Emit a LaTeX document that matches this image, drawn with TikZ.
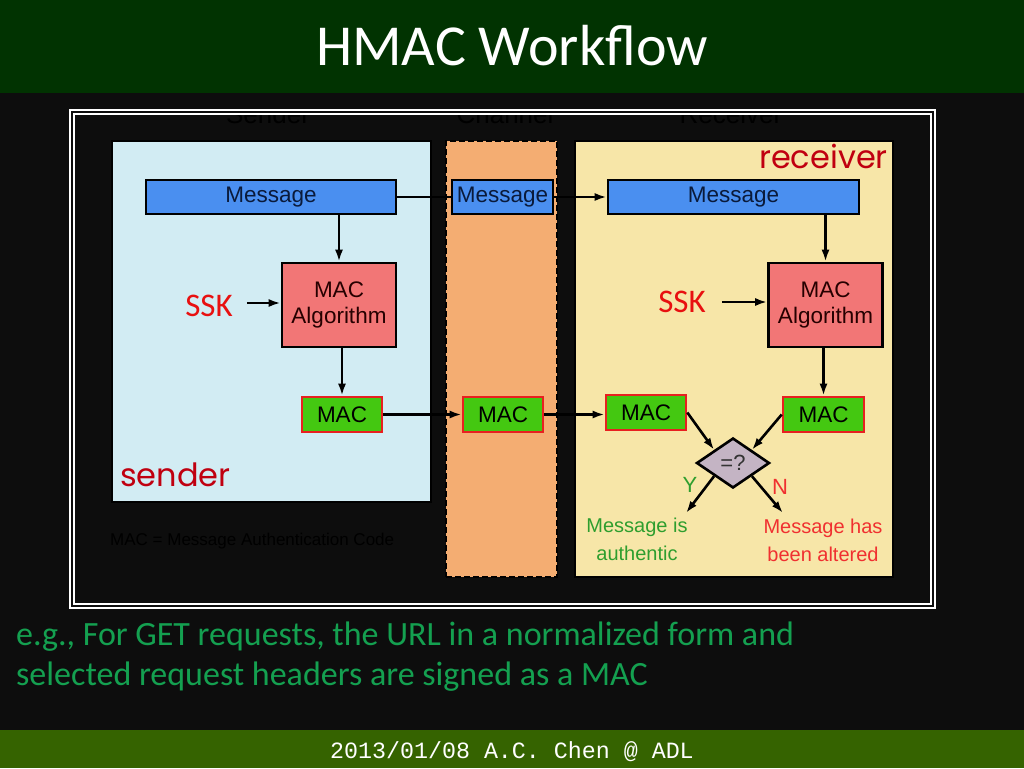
\documentclass[tikz,border=0pt]{standalone}
\usepackage{fontspec}
\setmainfont{Liberation Sans}
\newfontfamily\fCal{Carlito}
\newfontfamily\fMono{Liberation Mono}
\newfontfamily\fComic{Poppins}
\usetikzlibrary{shapes.geometric,arrows.meta}
\definecolor{slidebg}{HTML}{0D0D0D}
\definecolor{titlebar}{HTML}{013301}
\definecolor{footbar}{HTML}{356300}
\definecolor{sendfill}{HTML}{D2ECF3}
\definecolor{chanfill}{HTML}{F4AD72}
\definecolor{recvfill}{HTML}{F7E6A8}
\definecolor{msgfill}{HTML}{4A8FF0}
\definecolor{msgtext}{HTML}{0A1A3A}
\definecolor{algfill}{HTML}{F27676}
\definecolor{macfill}{HTML}{44C811}
\definecolor{macline}{HTML}{E82020}
\definecolor{diafill}{HTML}{C4B4C4}
\definecolor{sskred}{HTML}{E81010}
\definecolor{namered}{HTML}{C00010}
\definecolor{notegreen}{HTML}{14A050}
\definecolor{okgreen}{HTML}{2E9E2E}
\definecolor{badred}{HTML}{F03030}
\begin{document}
\begin{tikzpicture}[x=1pt,y=-1pt,
  lbl/.style={font=\fontsize{22}{26}\selectfont, align=center, inner sep=0pt},
  box/.style={draw=black, line width=2.6pt, inner sep=0pt, font=\fontsize{22.5}{26}\selectfont, align=center},
  msgbox/.style={box, fill=msgfill, text=msgtext, minimum height=34},
  algbox/.style={box, fill=algfill, text=black!85!red, minimum width=114, minimum height=84},
  macbox/.style={box, draw=macline, fill=macfill, text=black, minimum width=80, minimum height=35},
  region/.style={draw=black, line width=2.6pt, inner sep=0pt},
  ln/.style={line width=2.6pt},
  arr/.style={line width=2.6pt, -{Latex[length=12pt,width=8pt]}},
  ssk/.style={font=\fCal\fontsize{33}{36}\selectfont, text=sskred, inner sep=0pt},
  who/.style={font=\fComic\fontsize{32}{36}\selectfont, text=namered, inner sep=0pt},
  hidden/.style={text=black, inner sep=0pt}
]
\useasboundingbox (0,0) rectangle (1024,768);
\fill[slidebg] (0,0) rectangle (1024,768);
% title bar
\fill[titlebar] (0,0) rectangle (1024,93);
\node[anchor=base, text=white, inner sep=0pt, font=\fCal\fontsize{58}{60}\selectfont] (title) at (512,65) {HMAC Workflow};
% footer bar
\fill[footbar] (0,730) rectangle (1024,768);
\node[anchor=base, text=white, inner sep=0pt, font=\fMono\fontsize{23.3}{26}\selectfont] (foot) at (512,758) {2013/01/08 A.C. Chen @ ADL};
% frame
\fill[black!95!white] (70,110) rectangle (935,608);
\draw[white, line width=2pt] (70,110) rectangle (935,608);
\draw[white, line width=1.5pt] (74,114) rectangle (931,604);
% faint headers
\begin{scope}
\clip (75,115) rectangle (930,603);
\node[hidden, anchor=base, font=\fontsize{26}{28}\selectfont] (hsend) at (268,123) {Sender};
\node[hidden, anchor=base, font=\fontsize{26}{28}\selectfont] (hchan) at (505,123) {Channel};
\node[hidden, anchor=base, font=\fontsize{26}{28}\selectfont] (hrecv) at (731,123) {Receiver};
\end{scope}
% regions
\node[region, fill=sendfill, minimum width=319, minimum height=361] (sbox) at (271.5,321.5) {};
\node[region, fill=chanfill, dashed, dash pattern=on 6pt off 3pt, minimum width=111, minimum height=436] (cbox) at (501.5,359) {};
\node[region, fill=recvfill, minimum width=318, minimum height=436] (rbox) at (734,359) {};
\node[hidden, anchor=base west, font=\fontsize{17}{20}\selectfont] (note) at (110,545) {MAC = Message Authentication Code};
% labels
\node[who, anchor=base east] (recvname) at (888,168) {receiver};
\node[who, anchor=base west] (sendname) at (120,486) {sender};
% messages
\node[msgbox, minimum width=250] (smsg) at (271,197) {Message};
\node[msgbox, minimum width=101] (cmsg) at (502.5,197) {Message};
\node[msgbox, minimum width=251] (rmsg) at (733.5,197) {Message};
% algorithms
\node[algbox] (salg) at (339,305) {MAC\\Algorithm};
\node[algbox] (ralg) at (825.5,305) {MAC\\Algorithm};
% SSK
\node[ssk] (sssk) at (209,306) {SSK};
\node[ssk] (rssk) at (682,302) {SSK};
% MACs
\node[macbox] (smac) at (342,414.5) {MAC};
\node[macbox] (cmac) at (503,414.5) {MAC};
\node[macbox] (lmac) at (646,412.5) {MAC};
\node[macbox, minimum width=81] (rmac) at (823.5,414.5) {MAC};
% comparison
\node[diamond, draw=black, line width=2.6pt, fill=diafill, minimum width=73, minimum height=50, inner sep=0pt, font=\fontsize{22}{24}\selectfont, text=black!80] (dia) at (733,463) {=?};
\coordinate (yend) at (686,513);
\coordinate (nend) at (783,513);
\node[lbl, text=okgreen] (ylab) at (690,485) {Y};
\node[lbl, text=badred] (nlab) at (780,487) {N};
\node[lbl, text=okgreen, font=\fontsize{20}{28}\selectfont] (auth) at (637,539) {Message is\\authentic};
\node[lbl, text=badred, font=\fontsize{20}{28}\selectfont] (alt) at (823,540) {Message has\\been altered};
% connectors
\draw[ln] (smsg.east) -- (cmsg.west);
\draw[arr] (cmsg.east) -- (rmsg.west);
\draw[arr] (salg.north |- smsg.south) -- (salg.north);
\draw[arr] (ralg.north |- rmsg.south) -- (ralg.north);
\draw[arr] (sssk.east) ++(14,-3) coordinate (sskfrom) (sskfrom) -- (salg.west |- sskfrom);
\draw[arr] (rssk.east) ++(16,0) coordinate (rsskfrom) (rsskfrom) -- (ralg.west |- rsskfrom);
\draw[arr] (salg.south -| smac.north) -- (smac.north);
\draw[arr] (ralg.south -| rmac.north) -- (rmac.north);
\draw[arr] (smac.east) -- (cmac.west);
\draw[arr] (cmac.east) -- (lmac.west |- cmac.east);
\draw[arr] (lmac.east) -- (dia.north west);
\draw[arr] (rmac.west) -- (dia.north east);
\draw[arr] (dia.south west) -- (yend);
\draw[arr] (dia.south east) -- (nend);
% note text
\node[anchor=base west, inner sep=0pt, text=notegreen, font=\fCal\fontsize{34}{40}\selectfont] (eg1) at (16,645) {e.g., For GET requests, the URL in a normalized form and};
\node[anchor=base west, inner sep=0pt, text=notegreen, font=\fCal\fontsize{34}{40}\selectfont] (eg2) at (16,685) {selected request headers are signed as a MAC};
\end{tikzpicture}
\end{document}
